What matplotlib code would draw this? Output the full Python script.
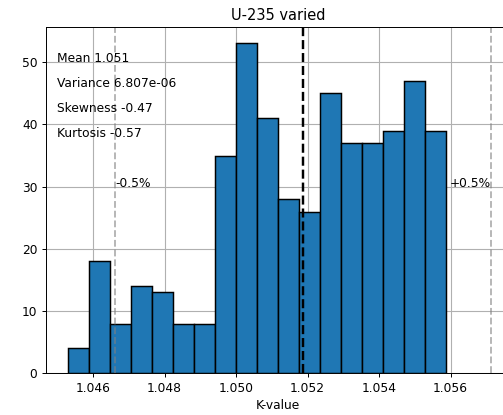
#%% import packages
import numpy as np
import matplotlib
matplotlib.use('Agg')
import matplotlib.pyplot as plt

#%% data
counts_ = [4, 18, 8, 14, 13, 8, 8, 35, 53, 41, 28, 26, 45, 37, 37, 39, 47, 39]
k_min_ = 1.045292   # left edge of first bin
k_max_ = 1.055866   # right edge of last bin
k_nominal_ = 1.051874
pct_ = 0.005
stats_ = ['Mean 1.051', 'Variance 6.807e-06', 'Skewness -0.47', 'Kurtosis -0.57']

edges_ = np.linspace(k_min_, k_max_, len(counts_) + 1)

#%% plot
fig = plt.figure(figsize=(503 / 88, 415 / 88), dpi=88)
ax = fig.add_axes([46 / 503, 41.7 / 415, 464 / 503, 346.3 / 415])
ax.set_axisbelow(True)
ax.grid(True, color='#b0b0b0', lw=0.9)

ax.bar(edges_[:-1], counts_, width=np.diff(edges_), align='edge',
       color='#1f77b4', edgecolor='black', linewidth=1.2)

ax.axvline(x=k_nominal_, color='black', ls='--', lw=2)
ax.axvline(x=k_nominal_ * (1 - pct_), color='grey', ls='--', lw=1.5, alpha=0.6)
ax.axvline(x=k_nominal_ * (1 + pct_), color='grey', ls='--', lw=1.5, alpha=0.6)
ax.text(k_nominal_ * (1 - pct_), 30, '-0.5%', ha='left')
ax.text(k_nominal_ * (1 + pct_), 30, '+0.5%', ha='right')

for i_, s_ in enumerate(stats_):
    ax.text(0.024, 0.9 - 0.0725 * i_, s_, transform=ax.transAxes)

ax.set_xlim(1.044685, 1.057664)
ax.set_ylim(0, 55.65)
ax.set_xticks([1.046, 1.048, 1.050, 1.052, 1.054, 1.056])
ax.set_yticks([0, 10, 20, 30, 40, 50])
ax.set_xlabel('K-value', labelpad=3)
ax.set_title('U-235 varied')

fig.savefig('out.png', dpi=88)
